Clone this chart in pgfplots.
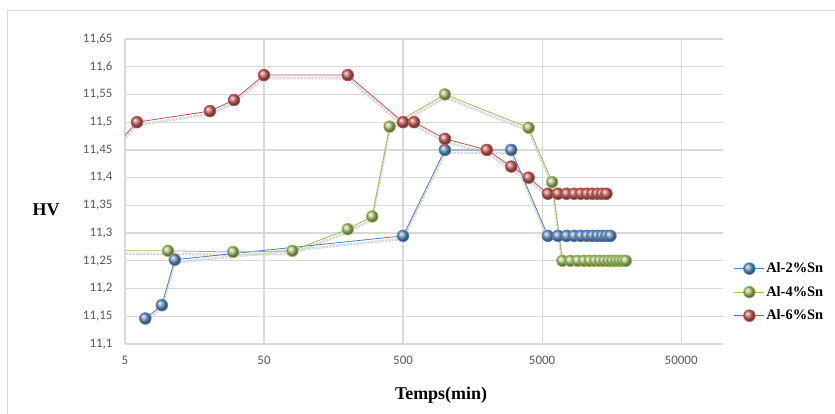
\documentclass[border=0pt]{standalone}
\usepackage{pgfplots}
\pgfplotsset{compat=1.18}
\usepackage{pgfplotstable}
\usepackage{fontspec}
\setmainfont{Liberation Serif}
\newfontfamily\tickfont{Carlito}
\definecolor{cblue}{HTML}{4F81BD}
\definecolor{cgreen}{HTML}{9BBB59}
\definecolor{cred}{HTML}{C0504D}
\definecolor{gridc}{HTML}{D9D9D9}
\definecolor{tickc}{HTML}{595959}

\pgfplotstableread{
t v
7 11.146
9.2 11.17
11.4 11.252
500 11.295
1000 11.45
3000 11.45
5500 11.295
6500 11.295
7500 11.295
8500 11.295
9500 11.295
10500 11.295
11500 11.295
12500 11.295
13500 11.295
14500 11.295
15500 11.295
}\blue
\pgfplotstableread{
t v
4 11.268
10.2 11.268
30 11.266
80 11.268
200 11.307
300 11.33
400 11.492
1000 11.55
4000 11.49
5900 11.392
7000 11.25
8000 11.25
9000 11.25
10000 11.25
11000 11.25
12000 11.25
13000 11.25
14000 11.25
15000 11.25
16000 11.25
17000 11.25
18000 11.25
19000 11.25
20000 11.25
}\green
\pgfplotstableread{
t v
4 11.45
6.1 11.5
20.4 11.52
30.4 11.54
50 11.585
200 11.585
500 11.5
600 11.5
1000 11.47
2000 11.45
3000 11.42
4000 11.40
5500 11.371
6500 11.371
7500 11.371
8500 11.371
9500 11.371
10500 11.371
11500 11.371
12500 11.371
13500 11.371
14500 11.371
}\red

\begin{document}
\begin{tikzpicture}
\path[use as bounding box] (0bp,0bp) rectangle (835bp,414bp);
\draw[gridc, line width=0.8bp] (7bp,0bp) -- (7bp,404bp) -- (835bp,404bp);
\begin{axis}[
  at={(125bp,70bp)}, anchor=south west,
  scale only axis, width=598bp, height=305bp,
  xmode=log, log basis x=10,
  xmin=5, xmax=100000, ymin=11.1, ymax=11.65,
  xtick={5,50,500,5000,50000},
  xticklabels={5,50,500,5000,50000},
  ytick={11.1,11.15,11.2,11.25,11.3,11.35,11.4,11.45,11.5,11.55,11.6,11.65},
  /pgf/number format/use comma,
  /pgf/number format/fixed,
  /pgf/number format/precision=2,
  /pgf/number format/assume math mode=true,
  ticklabel style={font=\tickfont\fontsize{13}{15}\selectfont, color=tickc},
  xticklabel style={yshift=-9bp},
  yticklabel style={xshift=-9bp},
  major tick length=0pt,
  axis x line*=bottom, axis y line*=left,
  axis line style={gridc, line width=1.2bp, -},
  grid=major,
  major grid style={gridc, line width=1.2bp},
  legend style={at={(1.018,0.17)}, anchor=west, draw=none, fill=none,
    font=\bfseries\fontsize{14.5}{16}\selectfont, row sep=9bp,
    inner sep=0pt, nodes={inner sep=1.5bp}},
  legend cell align=left,
  legend image code/.code={\draw[mark repeat=2,mark phase=2,#1] plot coordinates {(0bp,0bp) (15bp,0bp) (30bp,0bp)};},
]
\addplot[forget plot, gray!30, densely dotted, line width=2.5bp, yshift=-3bp] table[x=t,y=v] {\blue};
\addplot[forget plot, gray!30, densely dotted, line width=2.5bp, yshift=-3bp] table[x=t,y=v] {\green};
\addplot[forget plot, gray!30, densely dotted, line width=2.5bp, yshift=-3bp] table[x=t,y=v] {\red};
\addplot[cblue, line width=0.8bp, mark=ball, mark size=5.8bp, mark options={ball color=cblue!80!white}] table[x=t,y=v] {\blue};
\addlegendentry{Al-2\%Sn}
\addplot[cgreen, line width=0.8bp, mark=ball, mark size=5.8bp, mark options={ball color=cgreen!80!white}] table[x=t,y=v] {\green};
\addlegendentry{Al-4\%Sn}
\addplot[cred, line width=0.8bp, mark=ball, mark size=5.8bp, mark options={ball color=cred!85!white}] table[x=t,y=v] {\red};
\addlegendentry{Al-6\%Sn}
\end{axis}
\node[font=\bfseries\fontsize{18}{20}\selectfont] at (46bp,204bp) {HV};
\node[font=\bfseries\fontsize{18}{20}\selectfont] at (441bp,19bp) {Temps(min)};
\end{tikzpicture}
\end{document}
